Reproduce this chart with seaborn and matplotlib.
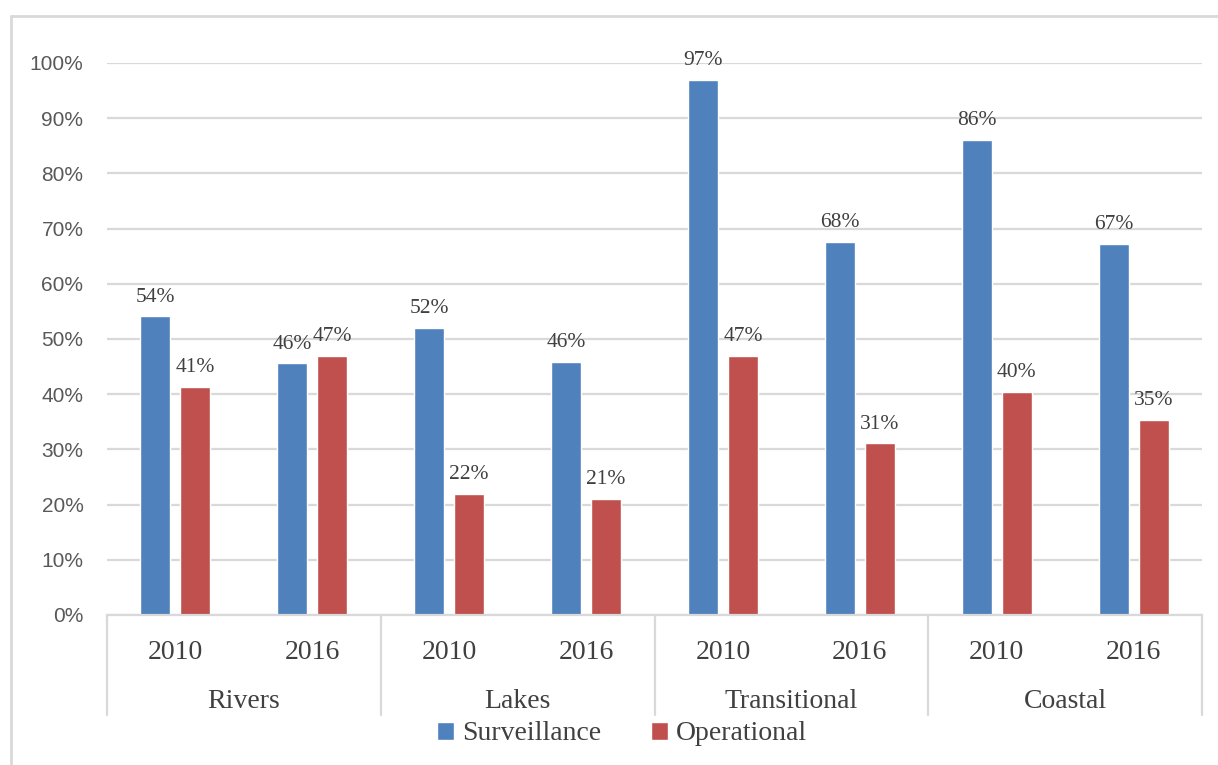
import matplotlib
matplotlib.use('Agg')
import matplotlib.pyplot as plt
import matplotlib.transforms as mtransforms
from matplotlib.patches import Patch
import seaborn as sns
import pandas as pd

# datos
categorias = ['Rivers', 'Lakes', 'Transitional', 'Coastal']
anios = ['2010', '2016']
surveillance = [54.1, 45.6, 52.0, 45.9, 96.9, 67.6, 86.1, 67.3]
operational = [41.3, 46.9, 21.9, 21.0, 46.9, 31.1, 40.4, 35.4]
series = ['Surveillance', 'Operational']
colores = {'Surveillance': '#4F81BD', 'Operational': '#C0504D'}

slots = [f'{c} {a}' for c in categorias for a in anios]
df = pd.DataFrame({
    'Slot': slots * 2,
    'Tipo': ['Surveillance'] * len(slots) + ['Operational'] * len(slots),
    'Valor': surveillance + operational,
})

sns.set_style('white')
fig = plt.figure(figsize=(12.18, 7.65), dpi=100)
ax = fig.add_axes([107 / 1218, 1 - 615 / 765, 1095 / 1218, 552 / 765])

sns.barplot(data=df, x='Slot', y='Valor', hue='Tipo', order=slots,
            hue_order=series, palette=colores, width=0.584, gap=0.25,
            ax=ax, legend=False, saturation=1)

ax.set_ylim(0, 100)
ax.set_xlim(-0.5, len(slots) - 0.5)
ax.set_yticks(range(0, 101, 10))
ax.set_yticklabels([f'{v}%' for v in range(0, 101, 10)],
                   fontsize=15, color='#595959', family='Liberation Sans')
ax.tick_params(axis='y', length=0, pad=17)
ax.yaxis.grid(True, color='#d9d9d9', linewidth=1.6)
ax.set_axisbelow(True)
ax.set_xlabel('')
ax.set_ylabel('')

for s in ['top', 'right', 'left']:
    ax.spines[s].set_visible(False)
ax.spines['bottom'].set_color('#d9d9d9')
ax.spines['bottom'].set_linewidth(1.6)

# etiquetas de valores
for container in ax.containers:
    etiquetas = [f'{b.get_height():.0f}%' for b in container]
    ax.bar_label(container, labels=etiquetas, padding=7, fontsize=15.5,
                 color='#404040', family='Liberation Serif')

# eje x de dos niveles
ax.set_xticks(range(len(slots)))
ax.set_xticklabels(anios * len(categorias), fontsize=20, color='#404040',
                   family='Liberation Serif')
ax.tick_params(axis='x', length=0, pad=18)

trans = mtransforms.blended_transform_factory(ax.transData, ax.transAxes)
for i, cat in enumerate(categorias):
    ax.text(2 * i + 0.5, -0.157, cat, transform=trans, ha='center', va='center',
            fontsize=20, color='#404040', family='Liberation Serif')
for i in range(len(categorias) + 1):
    ax.plot([2 * i - 0.5, 2 * i - 0.5], [0, -100 / 552], transform=trans,
            color='#d9d9d9', linewidth=1.6, clip_on=False)

# leyenda
handles = [Patch(facecolor=colores[s], label=s) for s in series]
fig.legend(handles=handles, loc='center', bbox_to_anchor=(622 / 1218, 1 - 734 / 765),
           ncol=2, frameon=False, prop={'family': 'Liberation Serif', 'size': 20},
           handlelength=0.6, handleheight=0.6, handletextpad=0.3, columnspacing=1.8,
           labelcolor='#404040')

# borde exterior
fig.add_artist(plt.Line2D([11 / 1218, 11 / 1218], [0, 1 - 16 / 765],
                          transform=fig.transFigure, color='#d9d9d9', linewidth=2))
fig.add_artist(plt.Line2D([11 / 1218, 1], [1 - 16 / 765, 1 - 16 / 765],
                          transform=fig.transFigure, color='#d9d9d9', linewidth=2))

plt.savefig('out.png', dpi=100)
plt.close()
